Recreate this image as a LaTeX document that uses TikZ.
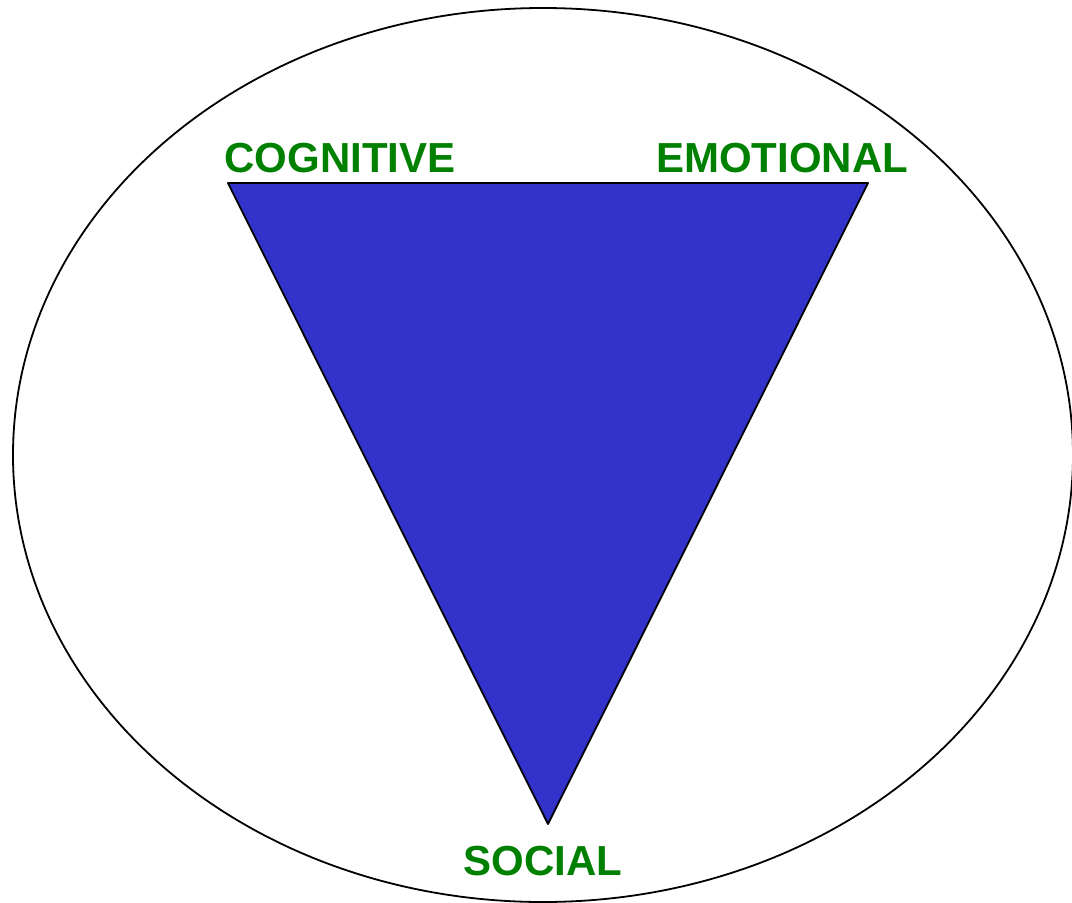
\documentclass[tikz,border=0pt]{standalone}
\usepackage{fontspec}
\setmainfont{Liberation Sans}
\definecolor{triblue}{HTML}{3333CC}
\definecolor{labelgreen}{HTML}{008000}
\begin{document}
\begin{tikzpicture}[x=1pt,y=-1pt,
  label text/.style={font=\fontsize{42}{42}\selectfont\bfseries, text=labelgreen, inner sep=0pt, anchor=base},
  outline/.style={draw=black, line width=1.8pt, line join=round}]
  \useasboundingbox (0,0) rectangle (1072,903);
  % outer ellipse
  \draw[outline] (543,455) ellipse [x radius=530, y radius=447];
  % inverted triangle
  \filldraw[outline, fill=triblue] (228,183) -- (868,183) -- (548,824) -- cycle;
  % corner labels
  \node[label text] (cog) at (340,172) {COGNITIVE};
  \node[label text] (emo) at (782,172) {EMOTIONAL};
  \node[label text] (soc) at (543,875) {SOCIAL};
\end{tikzpicture}
\end{document}
